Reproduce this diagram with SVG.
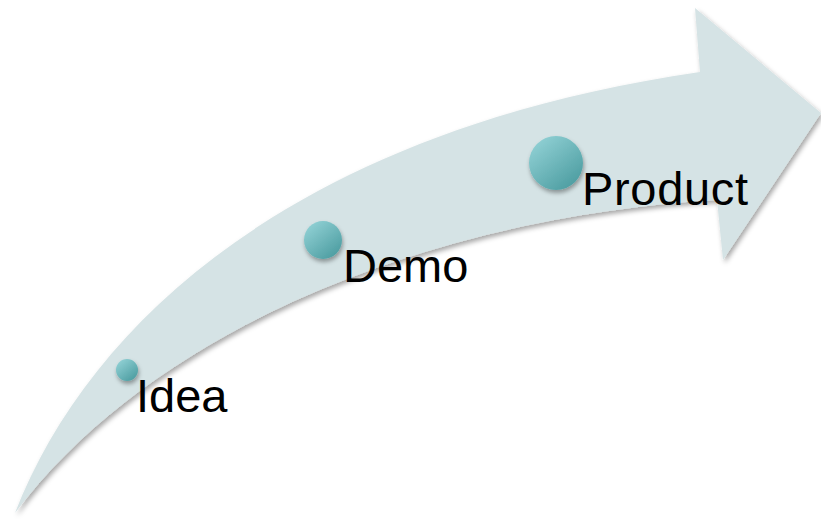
<svg xmlns="http://www.w3.org/2000/svg" width="821" height="520" viewBox="0 0 821 520">
<defs>
<filter id="sh" x="-10%" y="-10%" width="130%" height="130%">
<feDropShadow dx="2" dy="3" stdDeviation="2.5" flood-color="#000" flood-opacity="0.35"/>
</filter>
<filter id="csh" x="-40%" y="-40%" width="180%" height="180%">
<feDropShadow dx="1" dy="3" stdDeviation="2" flood-color="#000" flood-opacity="0.35"/>
</filter>
<linearGradient id="ball" x1="0.2" y1="0.1" x2="0.85" y2="0.9">
<stop offset="0" stop-color="#8ccdd1"/>
<stop offset="1" stop-color="#4e9ea2"/>
</linearGradient>
<style>
.arrow{fill:#d5e3e5;filter:url(#sh)}
.ball{fill:url(#ball);filter:url(#csh)}
.lbl{font-family:"Liberation Sans",Arial,sans-serif;font-size:47px;fill:#000}
</style>
</defs>
<rect width="821" height="520" fill="#fff"/>
<g id="connectors">
<path class="arrow" d="M15,513 C90,320 300,130 700,72 L695,8 L821,113 L723,260 L717,200 C450,215 160,320 15,513 Z"/>
</g>
<g id="idea">
<circle class="ball" cx="127" cy="370" r="11"/>
<text class="lbl" x="136" y="412">Idea</text>
</g>
<g id="demo">
<circle class="ball" cx="323" cy="240" r="19"/>
<text class="lbl" x="343" y="282">Demo</text>
</g>
<g id="product">
<circle class="ball" cx="556" cy="163" r="27"/>
<text class="lbl" x="582" y="205" textLength="166">Product</text>
</g>
</svg>
